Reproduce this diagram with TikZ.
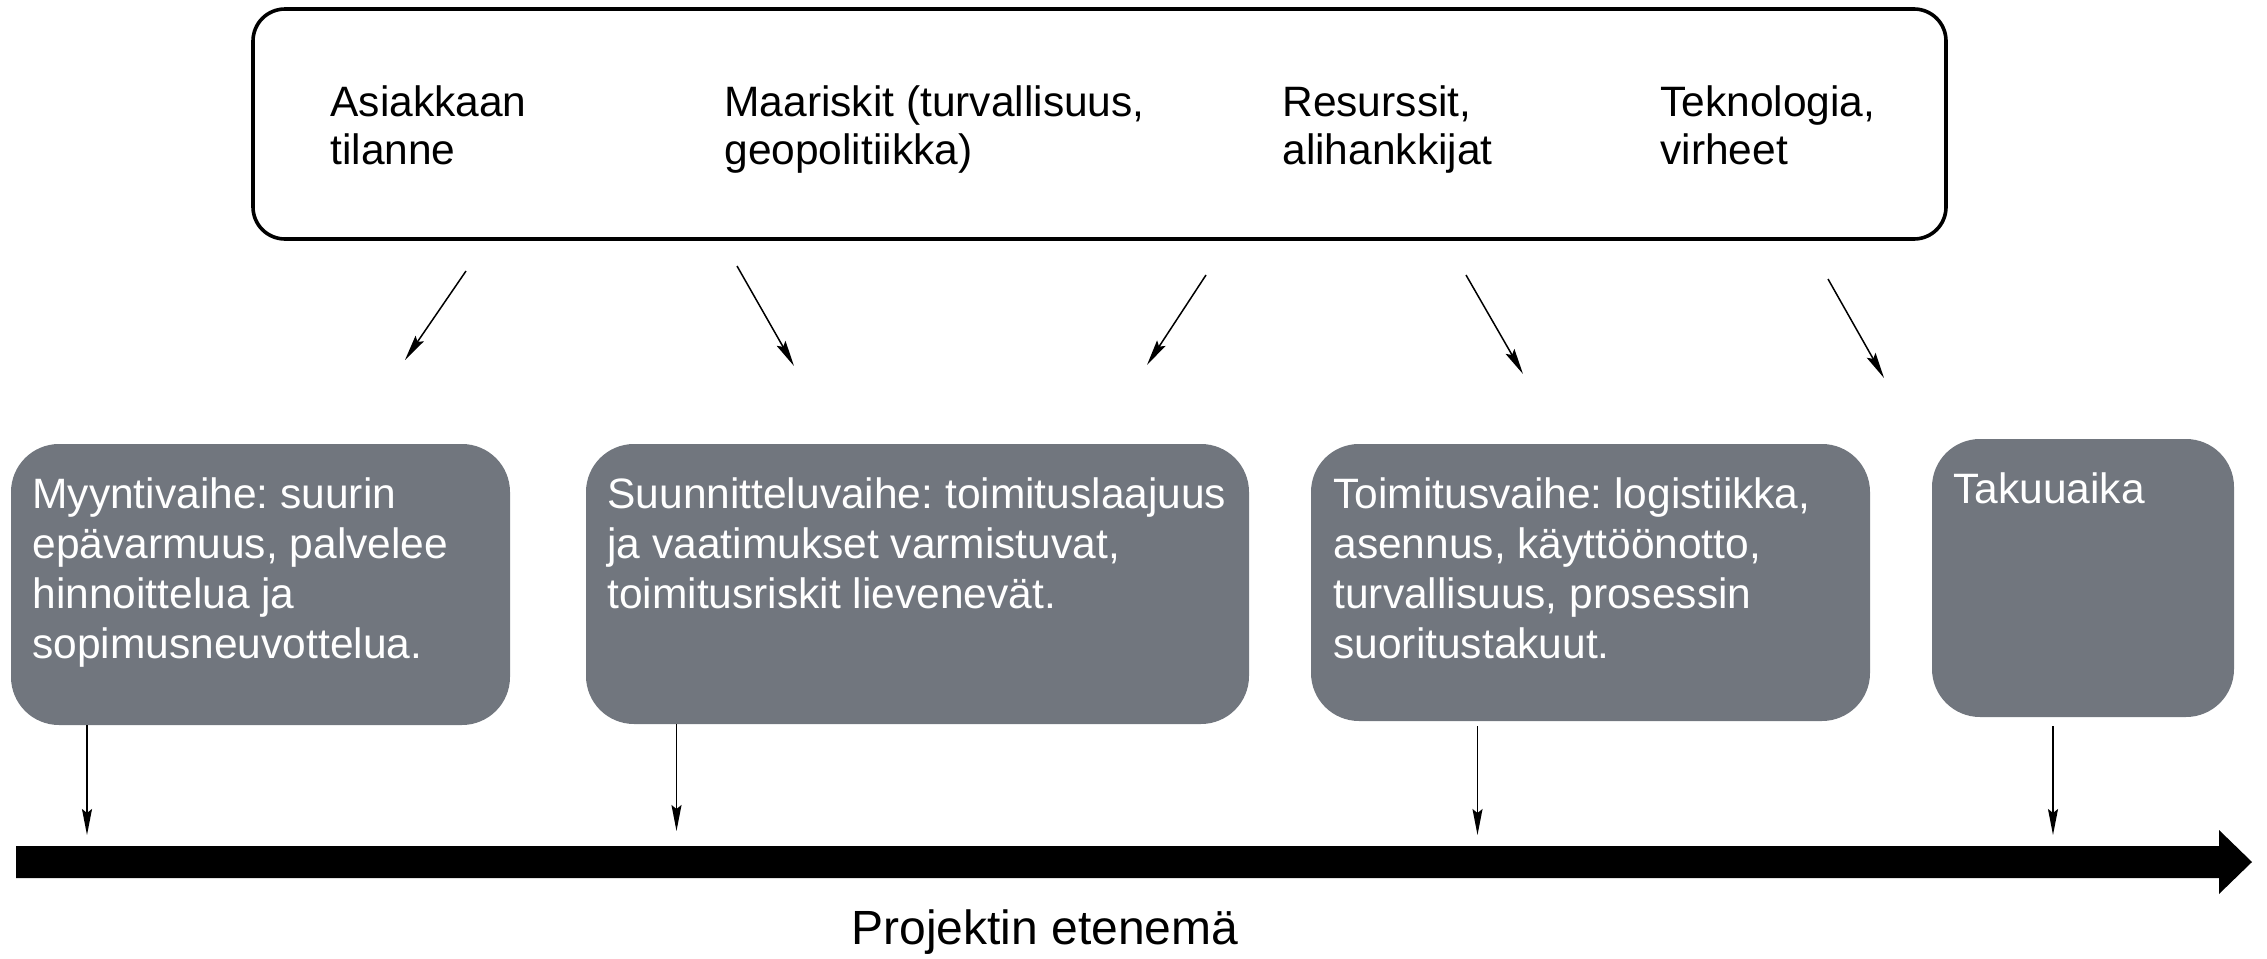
\documentclass[tikz,border=0pt]{standalone}
\usepackage{fontspec}
\setmainfont{Liberation Sans}
\frenchspacing
\usetikzlibrary{arrows.meta}
\definecolor{phase}{RGB}{113,118,126}
\begin{document}
\begin{tikzpicture}[x=0.5pt,y=-0.5pt,
 riskbox/.style={draw=black,line width=1.8pt,rounded corners=16pt,minimum width=846.5pt,minimum height=115pt,inner sep=0pt},
 risktext/.style={anchor=north west,inner sep=0pt,align=left,font=\fontsize{21.25}{24}\selectfont},
 phasebox/.style={fill=phase,rounded corners=24pt,inner sep=0pt},
 phasetext/.style={anchor=north west,inner sep=0pt,align=left,text=white,font=\fontsize{21.25}{25}\selectfont},
 thinarrow/.style={line width=0.75pt,-{Stealth[length=13pt,width=5pt,inset=2pt]}}]
\useasboundingbox (0,0) rectangle (2267,959);

% risk box
\node[riskbox] (risks) at (1099.5,124) {};
\node[risktext] (r1) at (330,85) {Asiakkaan\\tilanne};
\node[risktext] (r2) at (724,85) {Maariskit (turvallisuus,\\geopolitiikka)};
\node[risktext] (r3) at (1282,85) {Resurssit,\\alihankkijat};
\node[risktext] (r4) at (1660,85) {Teknologia,\\virheet};

% diagonal arrows
\coordinate (a1s) at (466,271); \coordinate (a1e) at (405,360);
\coordinate (a2s) at (737,266); \coordinate (a2e) at (794,366);
\coordinate (a3s) at (1206,275); \coordinate (a3e) at (1147,365);
\coordinate (a4s) at (1466,275); \coordinate (a4e) at (1523,374);
\coordinate (a5s) at (1828,279); \coordinate (a5e) at (1884,378);
\draw[thinarrow] (a1s) -- (a1e);
\draw[thinarrow] (a2s) -- (a2e);
\draw[thinarrow] (a3s) -- (a3e);
\draw[thinarrow] (a4s) -- (a4e);
\draw[thinarrow] (a5s) -- (a5e);

% phase boxes
\node[phasebox,minimum width=249.5pt,minimum height=140.5pt] (p1) at (260.5,584.5) {};
\node[phasebox,minimum width=331.5pt,minimum height=140pt] (p2) at (917.5,584) {};
\node[phasebox,minimum width=279.5pt,minimum height=138.5pt] (p3) at (1590.5,582.5) {};
\node[phasebox,minimum width=151pt,minimum height=139pt] (p4) at (2083,578) {};

\node[phasetext] (t1) at (32,477) {Myyntivaihe: suurin\\epävarmuus, palvelee\\hinnoittelua ja\\sopimusneuvottelua.};
\node[phasetext] (t2) at (607,477) {Suunnitteluvaihe: toimituslaajuus\\ja vaatimukset varmistuvat,\\toimitusriskit lievenevät.};
\node[phasetext] (t3) at (1333,477) {Toimitusvaihe: logistiikka,\\asennus, käyttöönotto,\\turvallisuus, prosessin\\suoritustakuut.};
\node[phasetext] (t4) at (1953,472) {Takuuaika};

% timeline
\fill[black] (16,846) -- (2219,846) -- (2219,830) -- (2252,862) -- (2219,894) -- (2219,878) -- (16,878) -- cycle;
\coordinate (tl) at (16,862);

% vertical arrows
\coordinate (v1s) at (87,725); \coordinate (v1e) at (87,835);
\coordinate (v2s) at (676.5,724); \coordinate (v2e) at (676.5,831);
\coordinate (v3s) at (1477.5,726); \coordinate (v3e) at (1477.5,835);
\coordinate (v4s) at (2053,726); \coordinate (v4e) at (2053,835);
\draw[thinarrow] (v1s) -- (v1e);
\draw[thinarrow] (v2s) -- (v2e);
\draw[thinarrow] (v3s) -- (v3e);
\draw[thinarrow] (v4s) -- (v4e);

\node[font=\fontsize{24}{28}\selectfont,inner sep=0pt] (prog) at (1045,932) {Projektin etenemä};
\end{tikzpicture}
\end{document}
